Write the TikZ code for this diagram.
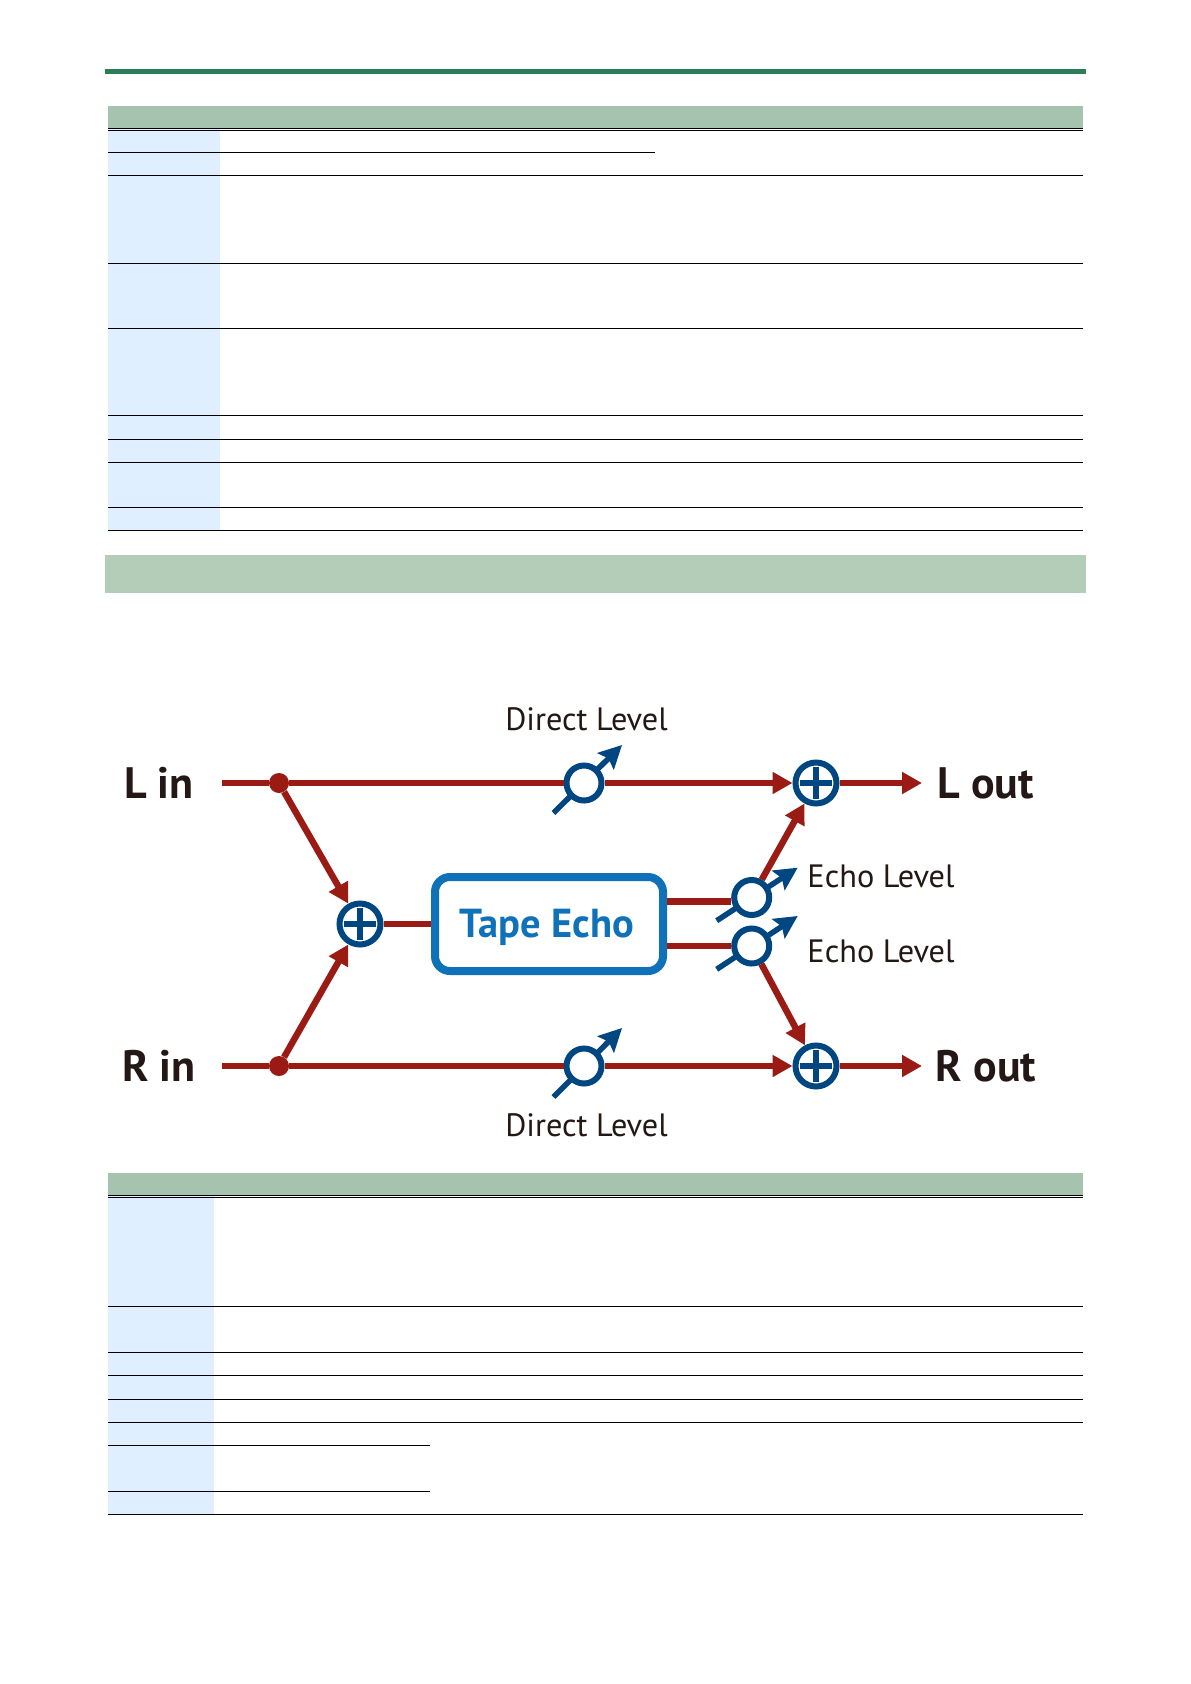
\documentclass[tikz,border=0pt]{standalone}
\usepackage{fontspec}
\setmainfont{PT Sans}
\usetikzlibrary{arrows.meta}
\definecolor{barg}{HTML}{2B7E57}
\definecolor{headg}{HTML}{A5C3AE}
\definecolor{bandg}{HTML}{B3CDB9}
\definecolor{cellb}{HTML}{E0EFFF}
\definecolor{sigred}{HTML}{9A1B14}
\definecolor{navy}{HTML}{004680}
\definecolor{boxblue}{HTML}{0F72B9}
\definecolor{inkk}{HTML}{231815}
\tikzset{
  x=1pt,y=-1pt,
  rule/.style={draw=black,line width=1pt},
  wire/.style={draw=sigred,line width=6.5pt},
  arrowwire/.style={wire,-{Triangle[length=20pt,width=21pt]}},
  knob/.style={draw=navy,line width=5.5pt,-{Stealth[length=23pt,width=23pt,inset=4pt]}},
  junction/.style={circle,fill=sigred,minimum size=20pt,inner sep=0pt},
  level/.style={circle,draw=navy,line width=6pt,fill=white,minimum size=35pt,inner sep=0pt},
  sum/.style={circle,draw=navy,line width=6pt,fill=white,minimum size=41pt,inner sep=0pt,
    path picture={\draw[navy,line width=6pt] (path picture bounding box.center)+(-16,0) -- +(16,0)
      (path picture bounding box.center)+(0,-16) -- +(0,16);}},
  biglabel/.style={anchor=base,text=inkk,font=\fontsize{44}{50}\selectfont\bfseries},
  smalllabel/.style={anchor=base,text=inkk,font=\fontsize{32.3}{38}\selectfont},
  effect/.style={draw=boxblue,line width=8pt,rounded corners=15pt,fill=white,minimum width=228pt,minimum height=94pt,inner sep=0pt},
}
\begin{document}
\begin{tikzpicture}
\useasboundingbox (0,0) rectangle (1191,1684);
\fill[white] (0,0) rectangle (1191,1684);
% page furniture
\fill[barg] (105,69) rectangle (1086,73.5);
\fill[headg] (108,106) rectangle (1083,128);
\fill[cellb] (108,129) rectangle (220,530);
\foreach \yy in {128.7,130.7,175.3,263.3,328.3,415.6,439,462,507,530.3}
  \draw[rule] (108,\yy) -- (1083,\yy);
\draw[rule] (108,152.3) -- (655,152.3);
\fill[bandg] (105,555) rectangle (1086,593);
\fill[headg] (108,1173) rectangle (1083,1195);
\fill[cellb] (108,1196) rectangle (214,1514);
\foreach \yy in {1195.5,1197.7,1306,1352.3,1375.3,1399.3,1422.3,1514.5}
  \draw[rule] (108,\yy) -- (1083,\yy);
\draw[rule] (108,1445.3) -- (430,1445.3);
\draw[rule] (108,1491.5) -- (430,1491.5);
% free ends
\coordinate (lstart) at (222,783);
\coordinate (rstart) at (222,1066);
\coordinate (lend) at (922,783);
\coordinate (rend) at (922,1066);
\coordinate (k1a) at (553.5,813);
\coordinate (k1b) at (622,745);
\coordinate (k2a) at (553.5,1097);
\coordinate (k2b) at (622,1028);
\coordinate (k3a) at (716.7,920.7);
\coordinate (k3b) at (797.7,867.7);
\coordinate (k4a) at (716.7,969.3);
\coordinate (k4b) at (797.7,916);
\coordinate (fxin) at (431,924);
\coordinate (fxo) at (667,901.7);
\coordinate (fxp) at (667,946);
% gain knobs
\draw[knob] (k1a) -- (k1b);
\draw[knob] (k2a) -- (k2b);
\draw[knob] (k3a) -- (k3b);
\draw[knob] (k4a) -- (k4b);
% nodes
\node[junction] (jl) at (279,783) {};
\node[junction] (jr) at (279,1066) {};
\node[sum] (sin) at (360,924) {};
\node[sum] (sl) at (816,783) {};
\node[sum] (sr) at (816,1066) {};
\node[level] (dl) at (584,783) {};
\node[level] (dr) at (584,1066) {};
\node[level] (el) at (751.7,897.5) {};
\node[level] (er) at (751.7,946) {};
\node[effect] (fx) at (549,924) {};
\node[anchor=base,text=boxblue,font=\fontsize{40.5}{46}\selectfont\bfseries] (fxt) at (547,937) {Tape Echo};
\node[biglabel] (tli) at (159,798) {L in};
\node[biglabel] (tri) at (159,1081) {R in};
\node[biglabel] (tlo) at (985.5,798) {L out};
\node[biglabel] (tro) at (986,1081) {R out};
\node[smalllabel] (tdu) at (586.5,730) {Direct Level};
\node[smalllabel] (tdd) at (586.5,1136.5) {Direct Level};
\node[smalllabel] (teu) at (881,887) {Echo Level};
\node[smalllabel] (ted) at (881,962) {Echo Level};
% connectors
\draw[wire] (lstart) -- (jl);
\draw[wire] (rstart) -- (jr);
\draw[wire] (jl) -- (dl);
\draw[wire] (jr) -- (dr);
\draw[arrowwire] (dl) -- (sl);
\draw[arrowwire] (dr) -- (sr);
\draw[arrowwire] (jl) -- (sin);
\draw[arrowwire] (jr) -- (sin);
\draw[wire] (sin) -- (fxin);
\draw[wire] (fxo) -- (fxo -| el.west);
\draw[wire] (fxp) -- (er);
\draw[arrowwire] (el) -- (sl);
\draw[arrowwire] (er) -- (sr);
\draw[arrowwire] (sl) -- (lend);
\draw[arrowwire] (sr) -- (rend);
\end{tikzpicture}
\end{document}
